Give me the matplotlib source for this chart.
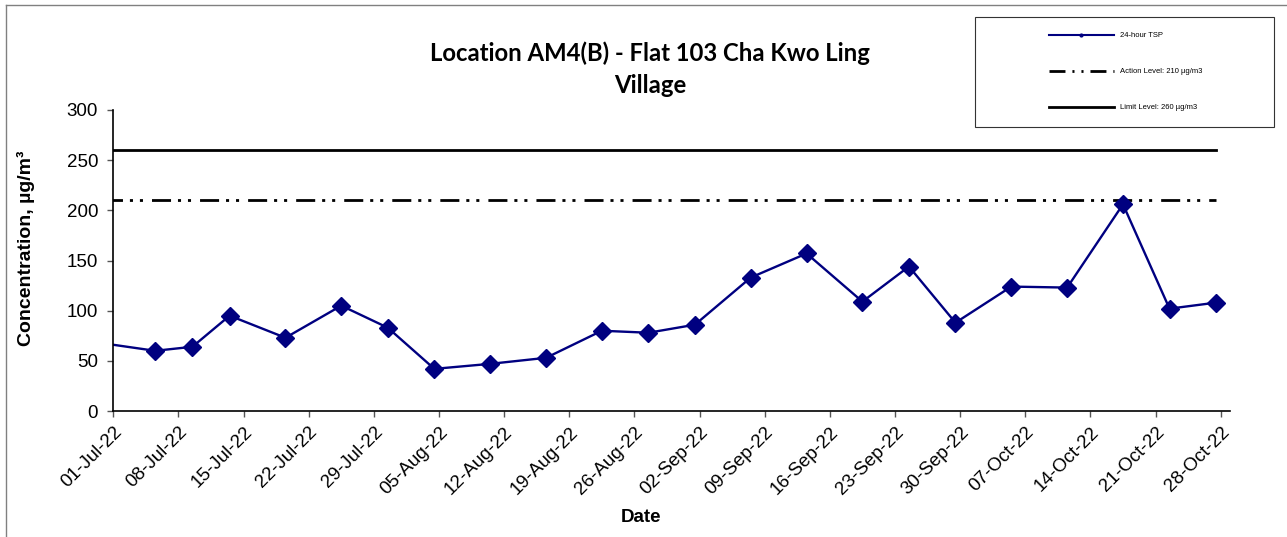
import numpy as np
import pandas as pd
import matplotlib
matplotlib.use('Agg')
import matplotlib.pyplot as plt
import matplotlib.dates as mdates
from matplotlib.lines import Line2D
from matplotlib.patches import Rectangle

plt.rcParams['font.family'] = ['Liberation Sans', 'DejaVu Sans']
plt.rcParams['lines.scale_dashes'] = False

# sampling dates (24-hour samples, plotted at mid-day)
sample_dates = ['2022-06-29', '2022-07-05', '2022-07-09', '2022-07-13', '2022-07-19',
                '2022-07-25', '2022-07-30', '2022-08-04', '2022-08-10', '2022-08-16',
                '2022-08-22', '2022-08-27', '2022-09-01', '2022-09-07', '2022-09-13',
                '2022-09-19', '2022-09-24', '2022-09-29', '2022-10-05', '2022-10-11',
                '2022-10-17', '2022-10-22', '2022-10-27']
tsp = [68, 60, 64, 95, 73, 105, 83, 42, 47, 53,
       80, 78, 86, 133, 157, 109, 144, 88, 124, 123,
       206, 102, 108]

action_level = 210
limit_level = 260

title_str = 'Location AM4(B) - Flat 103 Cha Kwo Ling\nVillage'
legend_labels = ['24-hour TSP', 'Action Level: 210 \u00b5g/m3', 'Limit Level: 260 \u00b5g/m3']

dates = pd.to_datetime(sample_dates) + pd.Timedelta(hours=12)

fig = plt.figure(figsize=(12.87, 5.37), dpi=100)
ax = fig.add_axes([113.3 / 1287, 1 - 411 / 537, (1230 - 113.3) / 1287, 301 / 537])

navy = '#000080'
# action / limit lines span the sampling period
action_style = (31.4, (13.7, 5, 2.2, 5, 2.2, 6.5))
ax.plot([dates[0], dates[-1]], [limit_level, limit_level], color='black', lw=2)
ax.plot([dates[0], dates[-1]], [action_level, action_level], color='black', lw=2,
        linestyle=action_style)
ax.plot(dates, tsp, color=navy, lw=1.7, marker='D', markersize=9,
        markerfacecolor=navy, markeredgecolor=navy)

ax.set_xlim(pd.Timestamp('2022-07-01'), pd.Timestamp('2022-10-29'))
ax.set_ylim(0, 300)
ax.set_yticks(np.arange(0, 301, 50))
ticks = pd.date_range('2022-07-01', '2022-10-28', freq='7D')
ax.set_xticks(ticks)
ax.xaxis.set_major_formatter(mdates.DateFormatter('%d-%b-%y'))

for s in ['top', 'right']:
    ax.spines[s].set_visible(False)
for s in ['left', 'bottom']:
    ax.spines[s].set_linewidth(1.2)
ax.tick_params(axis='both', direction='out', length=4, width=1, color='#555555',
               labelsize=13.5)
ax.tick_params(axis='y', pad=7)
ax.tick_params(axis='x', pad=5)
for lab in ax.get_xticklabels():
    lab.set_rotation(45)
    lab.set_ha('right')
    lab.set_va('top')
    lab.set_rotation_mode('anchor')

ax.set_ylabel('Concentration, \u00b5g/m\u00b3', fontsize=14, fontweight='bold')
ax.yaxis.set_label_coords((35 - 113.3) / 1116.7, 0.54)
ax.set_xlabel('Date', fontsize=13.5, fontweight='bold')
ax.xaxis.set_label_coords((641 - 113.3) / 1116.7, (411 - 518) / 301)
ax.xaxis.label.set_va('center')

fig.text(650 / 1287, 1 - 69 / 537, title_str, ha='center', va='center',
         fontsize=17.2, fontweight='bold', family=['Lato', 'DejaVu Sans'],
         linespacing=1.45)

# legend box
handles = [Line2D([], [], color=navy, lw=1.5, marker='o', markersize=2),
           Line2D([], [], color='black', lw=2, linestyle=(0, (11.5, 5, 1.5, 5, 1.5, 5))),
           Line2D([], [], color='black', lw=2)]
fig.legend(handles, legend_labels, loc='upper left',
           bbox_to_anchor=(1049 / 1287, 1 - 32 / 537), frameon=False,
           fontsize=5.5, handlelength=8.5, handletextpad=0.8, labelspacing=3.75,
           borderpad=0, borderaxespad=0)
fig.patches.append(Rectangle((975 / 1287, 1 - 127 / 537), 299 / 1287, 110 / 537,
                             transform=fig.transFigure, fill=False,
                             edgecolor='#333333', lw=0.8))

# outer chart frame
fig.add_artist(Line2D([6 / 1287, 6 / 1287], [0, 1 - 5 / 537], transform=fig.transFigure,
                      color='#808080', lw=1))
fig.add_artist(Line2D([6 / 1287, 1], [1 - 5 / 537, 1 - 5 / 537], transform=fig.transFigure,
                      color='#808080', lw=1))

fig.savefig('out.png', dpi=100)
